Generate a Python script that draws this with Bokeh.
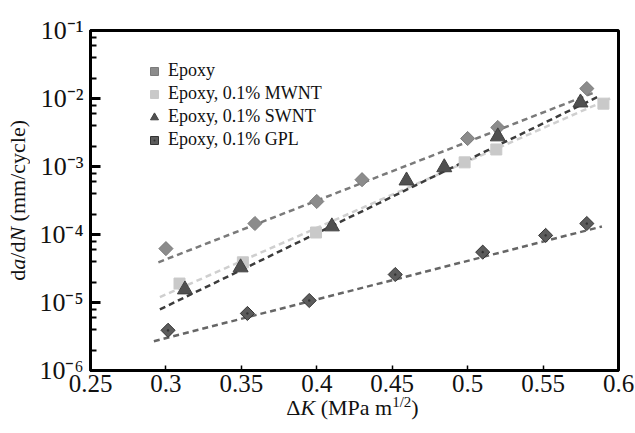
import math
from bokeh.plotting import figure
from bokeh.layouts import column, row
from bokeh.models import (Range1d, FixedTicker, CustomJSTickFormatter, Legend,
                          LegendItem, LogTicker, Div, LinearAxis, LogAxis)
from bokeh.embed import file_html
from bokeh.resources import INLINE

# ---------------- data ----------------
epoxy_dk = [0.300, 0.359, 0.400, 0.430, 0.500, 0.520, 0.579]
epoxy_rate = [6.2e-5, 1.45e-4, 3.06e-4, 6.4e-4, 2.58e-3, 3.75e-3, 1.40e-2]

mwnt_dk = [0.309, 0.351, 0.3995, 0.498, 0.519, 0.590]
mwnt_rate = [1.9e-5, 3.9e-5, 1.07e-4, 1.15e-3, 1.78e-3, 8.4e-3]

swnt_dk = [0.3126, 0.3495, 0.410, 0.4595, 0.4845, 0.520, 0.5748]
swnt_rate = [1.55e-5, 3.27e-5, 1.31e-4, 6.2e-4, 9.7e-4, 2.76e-3, 8.7e-3]

gpl_dk = [0.3014, 0.354, 0.395, 0.452, 0.510, 0.5517, 0.579]
gpl_rate = [3.9e-6, 6.9e-6, 1.07e-5, 2.58e-5, 5.5e-5, 9.7e-5, 1.45e-4]

# dashed trend lines (end points)
epoxy_fit_dk = [0.295, 0.585]
epoxy_fit_rate = [3.9e-5, 1.25e-2]
mwnt_fit_dk = [0.296, 0.5945]
mwnt_fit_rate = [1.2e-5, 1.0e-2]
swnt_fit_dk = [0.296, 0.586]
swnt_fit_rate = [7.9e-6, 1.05e-2]
gpl_fit_dk = [0.292, 0.589]
gpl_fit_rate = [2.7e-6, 1.31e-4]

series_labels = ["Epoxy", "Epoxy, 0.1% MWNT", "Epoxy, 0.1% SWNT", "Epoxy, 0.1% GPL"]
x_ticks = [0.25, 0.30, 0.35, 0.40, 0.45, 0.50, 0.55, 0.60]

FONT = "Liberation Serif"

p = figure(width=599, height=405, x_range=Range1d(0.25, 0.6),
           y_range=Range1d(1e-6, 1e-1), y_axis_type="log",
           x_axis_location=None, y_axis_location=None,
           output_backend="svg", toolbar_location=None,
           min_border_left=51, min_border_right=17,
           min_border_top=30, min_border_bottom=35, margin=0)

p.background_fill_color = "white"
p.border_fill_color = "white"
p.outline_line_color = "black"
p.outline_line_width = 3
p.xgrid.grid_line_color = None
p.ygrid.grid_line_color = None

sup_js = """
const e = Math.round(Math.log10(tick));
const m = {'-':'\\u207b','0':'\\u2070','1':'\\u00b9','2':'\\u00b2','3':'\\u00b3',
           '4':'\\u2074','5':'\\u2075','6':'\\u2076','7':'\\u2077','8':'\\u2078','9':'\\u2079'};
return '10' + String(e).split('').map(c => m[c]).join('');
"""

xaxis = LinearAxis(
    ticker=FixedTicker(ticks=x_ticks),
    formatter=CustomJSTickFormatter(code="return String(Number(tick.toFixed(2)));"),
    axis_line_width=3, major_tick_in=5, major_tick_out=0, major_tick_line_width=1.5,
    minor_tick_line_color=None,
    major_label_text_font=FONT, major_label_text_font_size="25px",
    major_label_text_color="#111111", major_label_standoff=4)
yaxis = LogAxis(
    ticker=LogTicker(),
    formatter=CustomJSTickFormatter(code=sup_js),
    axis_line_width=3, major_tick_in=10, major_tick_out=0, major_tick_line_width=3,
    minor_tick_in=6, minor_tick_out=0, minor_tick_line_width=2,
    major_label_text_font=FONT, major_label_text_font_size="26px",
    major_label_text_color="#111111", major_label_standoff=7)
p.add_layout(xaxis, "below")
p.add_layout(yaxis, "left")

DASH = "6 4"
p.line(epoxy_fit_dk, epoxy_fit_rate, line_color="#7a7a7a", line_width=2.5, line_dash=DASH)
p.line(mwnt_fit_dk, mwnt_fit_rate, line_color="#cfcfcf", line_width=2.5, line_dash=DASH)
p.line(swnt_fit_dk, swnt_fit_rate, line_color="#3c3c3c", line_width=2.5, line_dash=DASH)
p.line(gpl_fit_dk, gpl_fit_rate, line_color="#666666", line_width=2.5, line_dash=DASH)

r_ep = p.scatter(epoxy_dk, epoxy_rate, marker="square", angle=math.pi / 4, size=10,
                 fill_color="#8c8c8c", line_color="#7b7b7b", line_width=1)
r_mw = p.scatter(mwnt_dk, mwnt_rate, marker="square", size=11,
                 fill_color="#c9c9c9", line_color="#c9c9c9")
r_sw = p.scatter(swnt_dk, swnt_rate, marker="triangle", size=15,
                 fill_color="#505050", line_color="#404040")
r_gp = p.scatter(gpl_dk, gpl_rate, marker="square_dot", angle=math.pi / 4, size=10,
                 fill_color="#5c5c5c", line_color="#333333", line_width=1)

legend = Legend(items=[LegendItem(label=series_labels[0], renderers=[r_ep]),
                       LegendItem(label=series_labels[1], renderers=[r_mw]),
                       LegendItem(label=series_labels[2], renderers=[r_sw]),
                       LegendItem(label=series_labels[3], renderers=[r_gp])],
                location=(54, 220), label_text_font=FONT, label_text_font_size="18px",
                label_text_color="#111111",
                glyph_width=20, glyph_height=20, label_height=20, spacing=2,
                padding=0, margin=0, border_line_color=None,
                background_fill_alpha=0, label_standoff=4)
p.add_layout(legend)

# ---------- axis titles as rich text (upright / italic / superscript) ----------
y_title_html = (
    "<div style=\"height:400px;width:36px;display:flex;align-items:center;"
    "justify-content:center;\">"
    "<span style=\"writing-mode:vertical-rl;transform:rotate(180deg);"
    "font-family:'Liberation Serif',serif;font-size:22px;color:#111;"
    "white-space:nowrap;line-height:22px;\">"
    "d<i>a</i>/d<i>N</i> (mm/cycle)</span></div>"
)
x_title_html = (
    "<div style=\"margin-left:87px;width:531px;text-align:center;"
    "font-family:'Liberation Serif',serif;font-size:22px;color:#111;"
    "white-space:nowrap;line-height:20px;\">"
    "&Delta;<i>K</i> (MPa m<sup style=\"font-size:15px;line-height:0;\">1/2</sup>)"
    "</div>"
)
ydiv = Div(text=y_title_html, width=36, height=405, margin=0)
xdiv = Div(text=x_title_html, width=635, height=35, margin=(-7, 0, 0, 0))

layout = column(row(ydiv, p, spacing=0, margin=0), xdiv, spacing=0, margin=0)

with open("out.html", "w", encoding="utf-8") as f:
    f.write(file_html(layout, INLINE))
